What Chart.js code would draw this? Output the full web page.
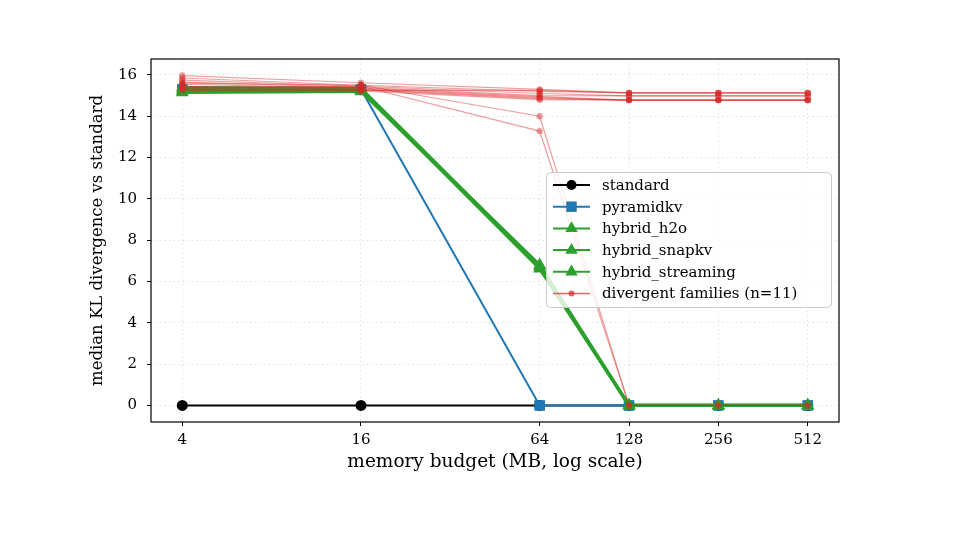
<!DOCTYPE html>
<html>
<head>
<meta charset="utf-8">
<script src="https://cdn.jsdelivr.net/npm/chart.js@4/dist/chart.umd.min.js"></script>
<style>
html,body{margin:0;padding:0;background:#fff;}
#wrap{width:960px;height:540px;}
</style>
</head>
<body>
<div id="wrap"><canvas id="c" width="960" height="540"></canvas></div>
<script>
// ---- data ----
const memoryBudget = [4, 16, 64, 128, 256, 512];
const xTicks = [4, 16, 64, 128, 256, 512];
const yTicks = [0, 2, 4, 6, 8, 10, 12, 14, 16];
const standard = [0, 0, 0, 0, 0, 0];
const pyramidkv = [15.3, 15.3, 0, 0, 0, 0];
const hybrid_h2o = [15.25, 15.27, 6.62, 0, 0, 0];
const hybrid_snapkv = [15.38, 15.35, 6.72, 0, 0, 0];
const hybrid_streaming = [15.15, 15.2, 6.8, 0, 0, 0];
const divergentFamilies = [
  [15.97, 15.62, 15.30, 15.13, 15.13, 15.13],
  [15.85, 15.50, 15.20, 15.13, 15.13, 15.13],
  [15.75, 15.45, 15.10, 14.99, 14.99, 14.99],
  [15.65, 15.40, 15.00, 14.99, 14.99, 14.99],
  [15.55, 15.35, 14.95, 14.78, 14.78, 14.78],
  [15.45, 15.30, 14.90, 14.78, 14.78, 14.78],
  [15.35, 15.28, 14.85, 14.78, 14.78, 14.78],
  [15.30, 15.25, 15.25, 15.13, 15.13, 15.13],
  [15.25, 15.22, 14.80, 14.78, 14.78, 14.78],
  [15.60, 15.50, 14.00, 0, 0, 0],
  [15.40, 15.45, 13.28, 0, 0, 0]
];
const legendLabels = ['standard', 'pyramidkv', 'hybrid_h2o', 'hybrid_snapkv', 'hybrid_streaming', 'divergent families (n=11)'];

// ---- styles ----
const FONT = "'DejaVu Serif', serif";
const BLACK = '#000000', BLUE = '#1f77b4', GREEN = '#2ca02c';
const RED_A = 'rgba(214,39,40,0.45)';

const pts = arr => arr.map((v, i) => ({x: memoryBudget[i], y: v}));

const datasets = [
  {label: legendLabels[0], data: pts(standard), borderColor: BLACK, backgroundColor: BLACK, borderWidth: 2,
   pointStyle: 'circle', pointRadius: 5.5, pointBorderWidth: 0, order: 10},
  {label: legendLabels[1], data: pts(pyramidkv), borderColor: BLUE, backgroundColor: BLUE, borderWidth: 2,
   pointStyle: 'rect', pointRadius: 7.5, pointBorderWidth: 0, order: 9},
  {label: legendLabels[2], data: pts(hybrid_h2o), borderColor: GREEN, backgroundColor: GREEN, borderWidth: 3.2,
   pointStyle: 'triangle', pointRadius: 7.5, pointBorderWidth: 0, order: 8},
  {label: legendLabels[3], data: pts(hybrid_snapkv), borderColor: GREEN, backgroundColor: GREEN, borderWidth: 3.2,
   pointStyle: 'triangle', pointRadius: 7.5, pointBorderWidth: 0, order: 7},
  {label: legendLabels[4], data: pts(hybrid_streaming), borderColor: GREEN, backgroundColor: GREEN, borderWidth: 3.2,
   pointStyle: 'triangle', pointRadius: 7.5, pointBorderWidth: 0, order: 6}
];
divergentFamilies.forEach((fam, k) => {
  datasets.push({label: 'family ' + (k + 1), data: pts(fam), borderColor: RED_A, backgroundColor: RED_A,
    borderWidth: 1.2, pointStyle: 'circle', pointRadius: 3.2, pointBorderWidth: 0, order: 1});
});

const legendStyles = [
  {color: BLACK, marker: 'circle', r: 5, lw: 2},
  {color: BLUE, marker: 'rect', r: 5.2, lw: 2},
  {color: GREEN, marker: 'triangle', r: 7.2, lw: 2},
  {color: GREEN, marker: 'triangle', r: 7.2, lw: 2},
  {color: GREEN, marker: 'triangle', r: 7.2, lw: 2},
  {color: 'rgba(214,39,40,0.7)', marker: 'circle', r: 3, lw: 1.4}
];

const framePlugin = {
  id: 'frame',
  afterDraw(chart) {
    const {ctx, chartArea: a} = chart;
    ctx.save();
    ctx.strokeStyle = '#000';
    ctx.lineWidth = 1.2;
    ctx.strokeRect(a.left, a.top, a.right - a.left, a.bottom - a.top);
    // legend box
    const bx = 546.5, by = 172.5, bw = 285, bh = 135, rr = 4;
    ctx.beginPath();
    ctx.moveTo(bx + rr, by);
    ctx.arcTo(bx + bw, by, bx + bw, by + bh, rr);
    ctx.arcTo(bx + bw, by + bh, bx, by + bh, rr);
    ctx.arcTo(bx, by + bh, bx, by, rr);
    ctx.arcTo(bx, by, bx + bw, by, rr);
    ctx.closePath();
    ctx.fillStyle = 'rgba(255,255,255,0.8)';
    ctx.fill();
    ctx.strokeStyle = '#cccccc';
    ctx.lineWidth = 1;
    ctx.stroke();
    const rowY0 = 185, rowH = 21.7;
    ctx.font = '15px ' + FONT;
    ctx.textBaseline = 'middle';
    ctx.textAlign = 'left';
    legendLabels.forEach((lab, i) => {
      const s = legendStyles[i];
      const y = rowY0 + i * rowH;
      ctx.strokeStyle = s.color;
      ctx.lineWidth = s.lw;
      ctx.beginPath();
      ctx.moveTo(553, y);
      ctx.lineTo(590, y);
      ctx.stroke();
      ctx.fillStyle = s.color;
      const cx = 571.5;
      ctx.beginPath();
      if (s.marker === 'circle') {
        ctx.arc(cx, y, s.r, 0, Math.PI * 2);
      } else if (s.marker === 'rect') {
        ctx.rect(cx - s.r, y - s.r, 2 * s.r, 2 * s.r);
      } else {
        for (let k = 0; k < 3; k++) {
          const ang = k * 2 * Math.PI / 3;
          const px = cx + Math.sin(ang) * s.r, py = y - Math.cos(ang) * s.r;
          if (k === 0) ctx.moveTo(px, py); else ctx.lineTo(px, py);
        }
        ctx.closePath();
      }
      ctx.fill();
      ctx.fillStyle = '#000';
      ctx.fillText(lab, 602, y + 1);
    });
    ctx.restore();
  }
};

new Chart(document.getElementById('c'), {
  type: 'line',
  data: {datasets},
  plugins: [framePlugin],
  options: {
    responsive: false,
    animation: false,
    devicePixelRatio: 1,
    layout: {padding: {top: 59, right: 121, left: 0, bottom: 0}},
    plugins: {legend: {display: false}, tooltip: {enabled: false}},
    elements: {line: {tension: 0}},
    scales: {
      x: {
        type: 'logarithmic',
        min: Math.pow(2, 1.65),
        max: Math.pow(2, 9.35),
        afterBuildTicks: s => { s.ticks = xTicks.map(v => ({value: v})); },
        afterFit: s => { s.height = 118; },
        ticks: {color: '#000', font: {family: FONT, size: 15}, padding: 5, maxRotation: 0, autoSkip: false,
                callback: v => String(v)},
        grid: {color: 'rgba(180,180,180,0.5)', lineWidth: 0.8, drawTicks: true, tickColor: '#000', tickLength: 4, tickWidth: 1},
        border: {display: false, dash: [1.5, 3]},
        title: {display: true, text: 'memory budget (MB, log scale)', color: '#000',
                font: {family: FONT, size: 18.5}, padding: {top: 0, bottom: 67}}
      },
      y: {
        type: 'linear',
        min: -0.8,
        max: 16.77,
        afterBuildTicks: s => { s.ticks = yTicks.map(v => ({value: v})); },
        afterFit: s => { s.width = 151; },
        ticks: {color: '#000', font: {family: FONT, size: 15}, padding: 10, callback: v => String(v)},
        grid: {color: 'rgba(180,180,180,0.5)', lineWidth: 0.8, drawTicks: true, tickColor: '#000', tickLength: 4, tickWidth: 1},
        border: {display: false, dash: [1.5, 3]},
        title: {display: true, text: 'median KL divergence vs standard', color: '#000',
                font: {family: FONT, size: 16.5}, padding: {top: 88, bottom: 0}}
      }
    }
  }
});
</script>
</body>
</html>
